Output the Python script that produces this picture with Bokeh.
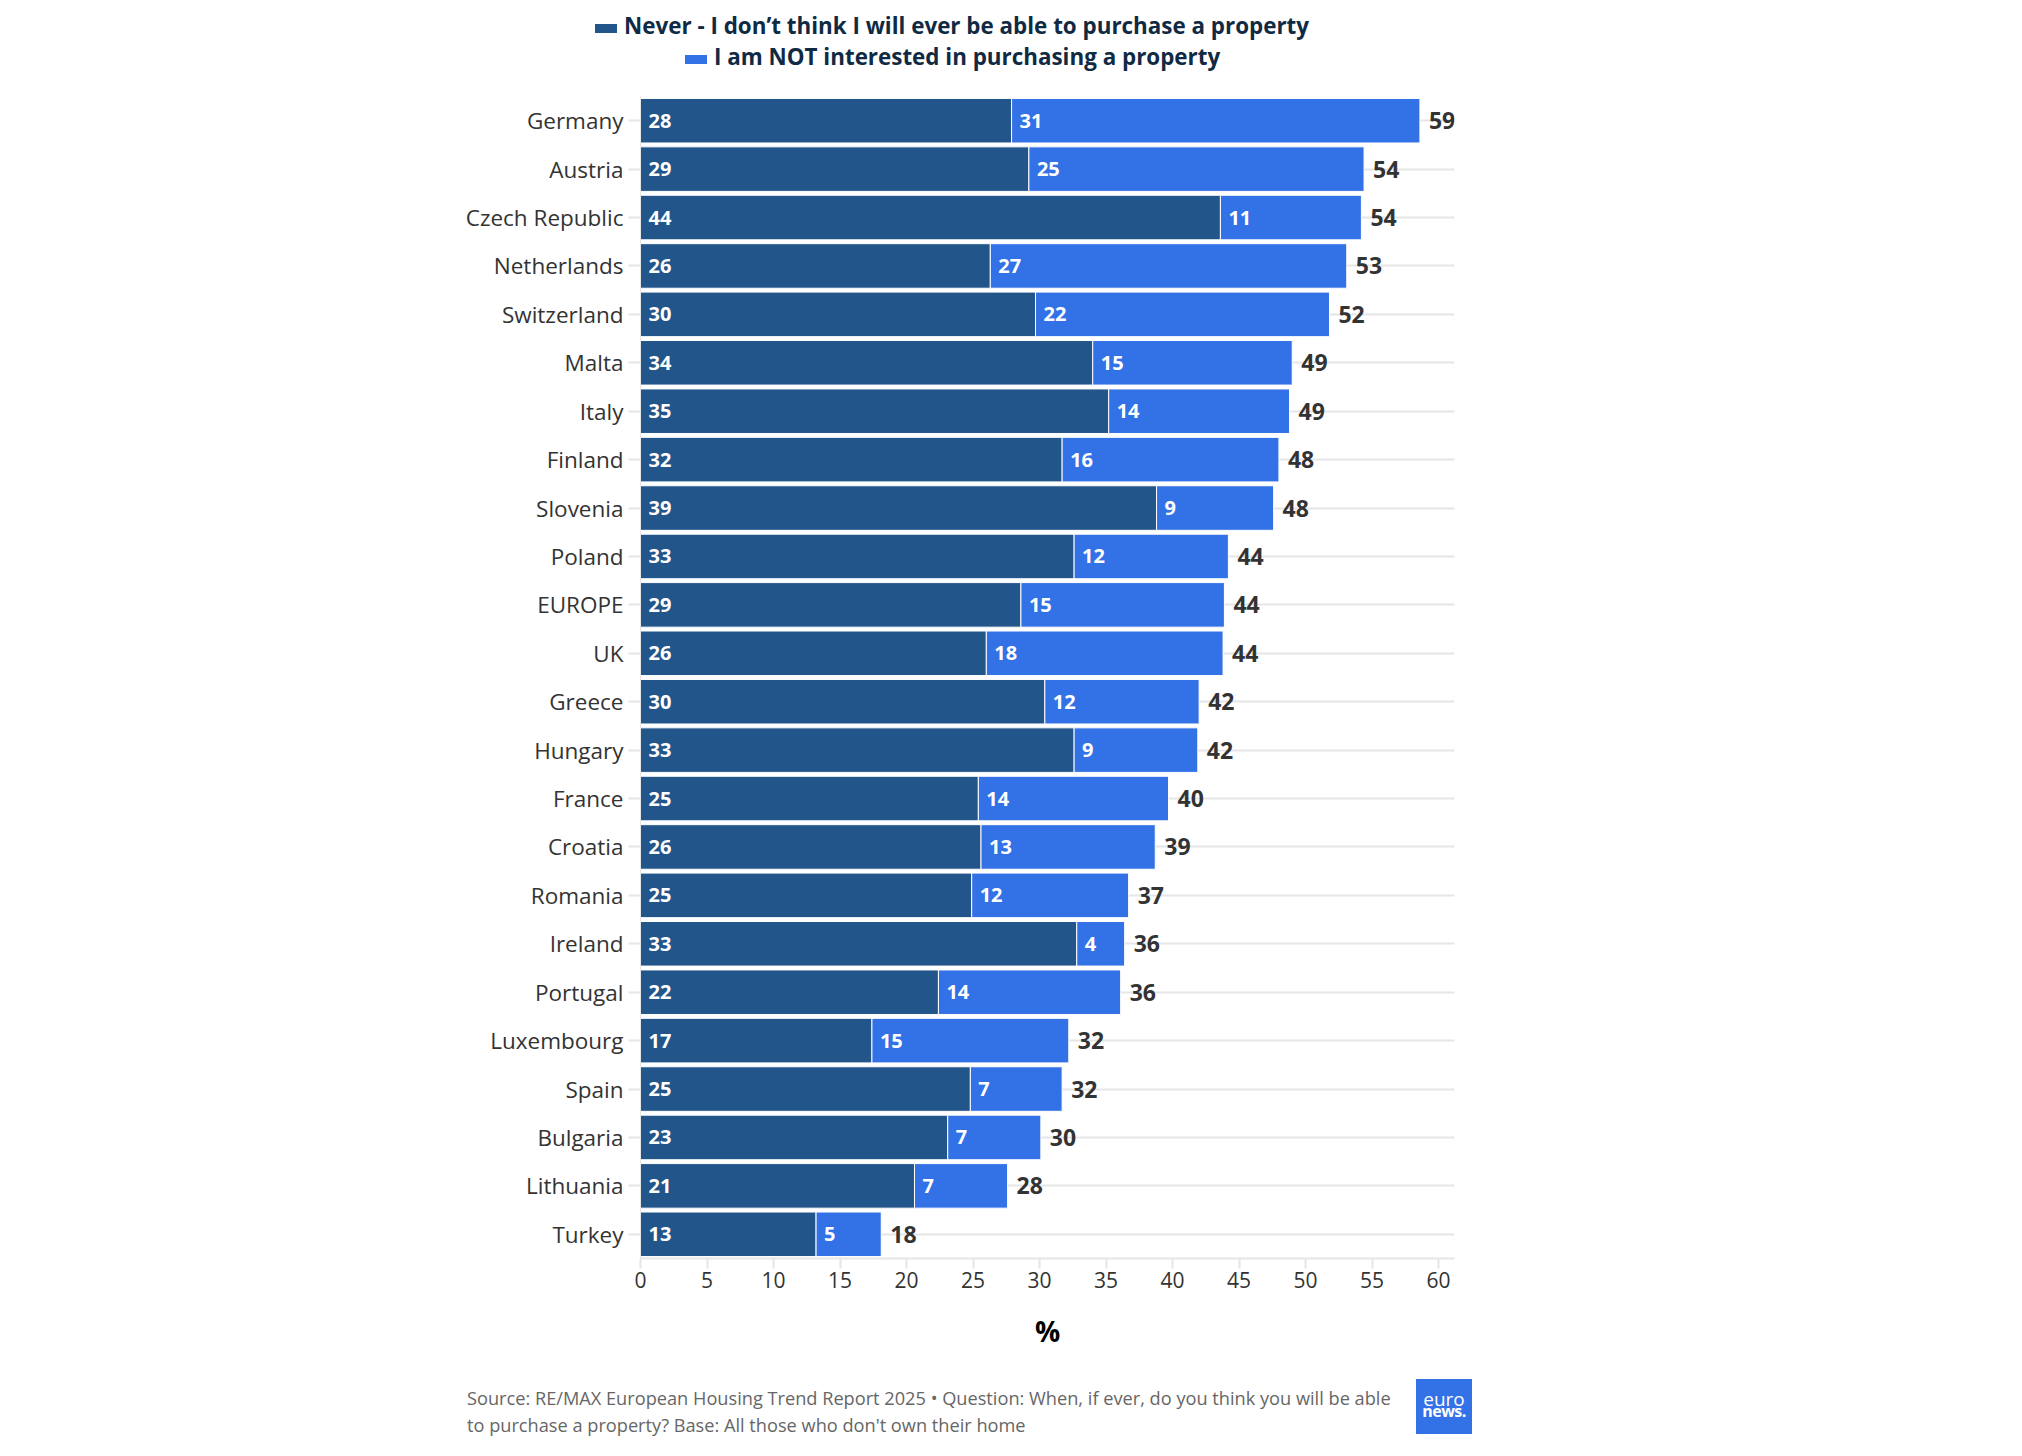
from bokeh.plotting import figure
from bokeh.models import ColumnDataSource, FactorRange, Range1d, FixedTicker, Div
from bokeh.layouts import column
from bokeh.core.properties import value
from bokeh.embed import file_html
from bokeh.resources import INLINE

countries = ["Germany", "Austria", "Czech Republic", "Netherlands", "Switzerland",
             "Malta", "Italy", "Finland", "Slovenia", "Poland", "EUROPE", "UK",
             "Greece", "Hungary", "France", "Croatia", "Romania", "Ireland",
             "Portugal", "Luxembourg", "Spain", "Bulgaria", "Lithuania", "Turkey"]

# share answering "Never - I don't think I will ever be able to purchase"
never = [27.9, 29.2, 43.6, 26.3, 29.7, 34.0, 35.2, 31.7, 38.8, 32.6, 28.6, 26.0,
         30.4, 32.6, 25.4, 25.6, 24.9, 32.8, 22.4, 17.4, 24.8, 23.1, 20.6, 13.2]

# share answering "I am NOT interested in purchasing"
not_interested = [30.7, 25.2, 10.6, 26.8, 22.1, 15.0, 13.6, 16.3, 8.8, 11.6, 15.3, 17.8,
                  11.6, 9.3, 14.3, 13.1, 11.8, 3.6, 13.7, 14.8, 6.9, 7.0, 7.0, 4.9]

x_ticks = [0, 5, 10, 15, 20, 25, 30, 35, 40, 45, 50, 55, 60]

series_names = ["Never - I don\u2019t think I will ever be able to purchase a property",
                "I am NOT interested in purchasing a property"]

source_text = ("Source: RE/MAX European Housing Trend Report 2025 \u2022 Question: When, if ever, "
               "do you think you will be able")
source_text2 = "to purchase a property? Base: All those who don't own their home"

DARK = "#22558a"
BRIGHT = "#3371e6"
NAVY = "#102a43"
FONT = "Open Sans"

total = [a + b for a, b in zip(never, not_interested)]
src = ColumnDataSource(data=dict(
    country=countries,
    never=never,
    total=total,
    never_lbl=[str(int(round(v))) for v in never],
    ni_lbl=[str(int(round(v))) for v in not_interested],
    total_lbl=[str(int(round(v))) for v in total],
))

p = figure(
    width=2006, height=1277,
    y_range=FactorRange(factors=list(reversed(countries))),
    x_range=Range1d(0, 61.2),
    output_backend="svg",
    toolbar_location=None,
    min_border_left=640, min_border_right=552,
    min_border_top=20, min_border_bottom=95,
)
p.outline_line_color = None
p.background_fill_color = "white"
p.border_fill_color = "white"

# stacked bars
p.hbar(y="country", left=0, right="never", height=0.92, source=src,
       fill_color=DARK, line_color="white", line_width=1)
p.hbar(y="country", left="never", right="total", height=0.92, source=src,
       fill_color=BRIGHT, line_color="white", line_width=1)

# value labels
p.text(x=0, y="country", text="never_lbl", source=src, x_offset=8,
       text_align="left", text_baseline="middle", text_color="white",
       text_font=value(FONT), text_font_style="bold", text_font_size="20px")
p.text(x="never", y="country", text="ni_lbl", source=src, x_offset=8,
       text_align="left", text_baseline="middle", text_color="white",
       text_font=value(FONT), text_font_style="bold", text_font_size="20px")
p.text(x="total", y="country", text="total_lbl", source=src, x_offset=9,
       text_align="left", text_baseline="middle", text_color="#333333",
       text_font=value(FONT), text_font_style="bold", text_font_size="23px")

# grid + axes
p.xgrid.grid_line_color = None
p.ygrid.grid_line_color = "#e6e6e6"
p.ygrid.grid_line_width = 2

p.yaxis.axis_line_color = "#e6e6e6"
p.yaxis.major_tick_line_color = "#e6e6e6"
p.yaxis.major_tick_line_width = 2
p.yaxis.major_tick_out = 12
p.yaxis.major_tick_in = 0
p.yaxis.major_label_standoff = 5
p.yaxis.major_label_text_font = FONT
p.yaxis.major_label_text_font_size = "22.5px"
p.yaxis.major_label_text_color = "#333333"

p.xaxis.ticker = FixedTicker(ticks=x_ticks)
p.xaxis.axis_line_color = "#e6e6e6"
p.xaxis.axis_line_width = 2
p.xaxis.major_tick_line_color = "#e6e6e6"
p.xaxis.major_tick_line_width = 2
p.xaxis.major_tick_out = 10
p.xaxis.major_tick_in = 0
p.xaxis.minor_tick_line_color = None
p.xaxis.major_label_standoff = 3
p.xaxis.major_label_text_font = FONT
p.xaxis.major_label_text_font_size = "21px"
p.xaxis.major_label_text_color = "#333333"
p.xaxis.axis_label = "%"
p.xaxis.axis_label_text_font = FONT
p.xaxis.axis_label_text_font_style = "bold"
p.xaxis.axis_label_text_font_size = "28px"
p.xaxis.axis_label_text_color = "#000000"
p.xaxis.axis_label_standoff = 21

# legend above the chart (two centred rows)
def legend_row(color, name, left, top):
    sw = (f'<div style="position:absolute;left:{left}px;top:{top + 11}px;'
          f'width:22px;height:9px;background:{color};"></div>')
    tx = (f'<div style="position:absolute;left:{left + 29}px;top:{top}px;'
          f'white-space:nowrap;font:bold 22.4px/26px \'{FONT}\';color:{NAVY};">{name}</div>')
    return sw + tx

legend_html = ('<div style="position:relative;width:2006px;height:66px;">'
               + legend_row(DARK, series_names[0], 590, 8)
               + legend_row(BRIGHT, series_names[1], 680, 39)
               + '</div>')
legend_div = Div(text=legend_html, width=2006, height=66)

# footnote + logo (logo wordmark is one text that wraps, first line styled lighter)
foot_html = (
    '<style>.logo::first-line{font-weight:normal;font-size:19px;letter-spacing:0;}</style>'
    '<div style="position:relative;width:2006px;height:95px;">'
    f'<div style="position:absolute;left:462px;top:27px;white-space:nowrap;'
    f'font:18.2px/27px \'{FONT}\';color:#666666;">{source_text}<br>{source_text2}</div>'
    f'<div style="position:absolute;left:1411px;top:21px;width:56px;height:55px;'
    f'background:{BRIGHT};color:white;text-align:center;">'
    f'<div class="logo" style="position:absolute;left:3px;top:14px;width:50px;'
    f'font:bold 16px/12px \'{FONT}\';letter-spacing:-0.5px;">euro news.</div>'
    '</div></div>'
)
foot_div = Div(text=foot_html, width=2006, height=95)

layout = column(legend_div, p, foot_div, spacing=0)

open("out.html", "w").write(file_html(layout, INLINE))
